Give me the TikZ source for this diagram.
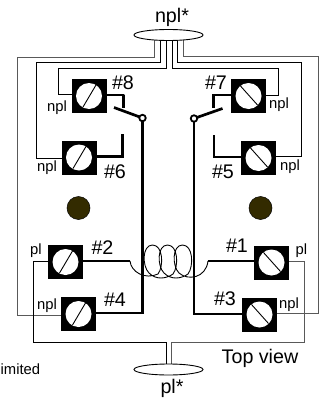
\documentclass[tikz,border=0pt]{standalone}
\usepackage{fontspec}
\setmainfont{Liberation Sans}
\usetikzlibrary{shapes.geometric}
\pgfdeclarelayer{wires}
\pgfsetlayers{wires,main}
\tikzset{
  thinwire/.style={line width=1pt,black},
  greywire/.style={line width=1pt,black!65},
  thickwire/.style={line width=2.7pt,black},
  termbox/.style={fill=black,draw=none,minimum width=35pt,minimum height=34pt,inner sep=0pt,outer sep=0pt},
  screw/.style={fill=white,draw=none,circle,minimum size=26pt,inner sep=0pt},
  slash/.style={line width=0.9pt,black},
  plug/.style={ellipse,draw=black,line width=0.9pt,fill=white,minimum width=69pt,minimum height=11pt,inner sep=0pt},
  hole/.style={circle,fill=holecol,draw=black,line width=0.5pt,minimum size=23pt,inner sep=0pt},
  pivot/.style={circle,fill=white,draw=black,line width=1.8pt,minimum size=6.5pt,inner sep=0pt},
  big/.style={anchor=base,inner sep=0pt,font=\fontsize{19.7}{20}\selectfont},
  small/.style={anchor=base,inner sep=0pt,font=\fontsize{14.8}{15}\selectfont},
  coilline/.style={line width=0.9pt,black}
}
\definecolor{holecol}{HTML}{332B00}
\newcommand{\termL}[3]{\node[termbox] (#1) at (#2,#3) {};
  \node[screw] (#1s) at (#2,#3) {};
  \draw[slash] ([shift={(7pt,11pt)}]#1s.center) -- ([shift={(-6pt,-11pt)}]#1s.center);}
\newcommand{\termR}[3]{\node[termbox] (#1) at (#2,#3) {};
  \node[screw] (#1s) at (#2,#3) {};
  \draw[slash] ([shift={(-8pt,10pt)}]#1s.center) -- ([shift={(9pt,-9pt)}]#1s.center);}
\begin{document}
\begin{tikzpicture}[x=1pt,y=-1pt]
\useasboundingbox (0,0) rectangle (320,399);
% terminals
\termL{t8}{89}{96}
\termL{t6}{79}{157.5}
\termR{t7}{248.5}{96}
\termR{t5}{258.5}{158}
\termL{t2}{65.5}{262}
\termL{t4}{78.5}{314}
\termR{t1}{271.5}{262.5}
\termR{t3}{259.5}{314.5}
% plugs
\node[plug] (top) at (168.5,35) {};
\node[plug] (bot) at (168.5,369.5) {};
% mounting holes
\node[hole] (hl) at (78.5,208) {};
\node[hole] (hr) at (260.5,208) {};
% pivots
\node[pivot] (pl) at (142.5,118) {};
\node[pivot] (pr) at (194,118.5) {};
% free ends
\coordinate (s8) at (114,107.5);
\coordinate (s7) at (222.5,108.5);
\coordinate (c8) at (123.5,108);
\coordinate (c6) at (122.5,134);
\coordinate (c7) at (213.5,108);
\coordinate (c5) at (214,135);
\coordinate (c2) at (130,261);
\coordinate (c1) at (208,261);
\begin{pgfonlayer}{wires}
  \draw[greywire] ([xshift=-14.5pt]top.center) |- (17.5,57) |- ([yshift=-1pt]t4.west);
  \draw[thinwire] ([xshift=-8pt]top.center) |- (36,62) |- ([yshift=-1pt]t6.west);
  \draw[thinwire] ([xshift=-2.5pt]top.center) |- (58.5,68) |- ([yshift=2pt]t8.west);
  \draw[thinwire] ([xshift=3.5pt]top.center) |- (278.7,68) |- ([yshift=1pt]t7.east);
  \draw[thinwire] ([xshift=8.5pt]top.center) |- (301,62) |- ([yshift=2pt]t5.east);
  \draw[greywire] ([xshift=14.5pt]top.center) |- (318,56.5) |- ([yshift=1pt]t3.east);
  \draw[thinwire] ([yshift=1pt]t2.west) -| (33,342) -| ([xshift=-2.5pt]bot.center);
  \draw[greywire] ([yshift=1.5pt]t1.east) -| (304,342) -| ([xshift=2.5pt]bot.center);
  \draw[thickwire,line join=round] ([yshift=1pt]t8.east) -| (c8);
  \draw[thickwire] ([yshift=1pt]t6.east) -| (c6);
  \draw[thickwire] ([yshift=1pt]t7.west) -| (c7);
  \draw[thickwire] ([yshift=1pt]t5.west) -| (c5);
  \draw[thickwire] ([yshift=1pt]t2.east) -- (c2);
  \draw[thickwire] ([yshift=1.5pt]t1.west) -- (c1);
  \draw[thickwire] (s8) -- (pl.center);
  \draw[thickwire] (s7) -- (pr.center);
  \draw[thickwire] (pl.center) |- ([yshift=1pt]t4.east);
  \draw[thickwire] (pr.center) |- ([yshift=0.5pt]t3.west);
\end{pgfonlayer}
% coil
\draw[coilline] (c2) .. controls (131,272) and (145,280) .. (158,274)
  .. controls (164,266) and (163,245) .. (152.5,245)
  .. controls (142,245) and (142,266) .. (149,273)
  .. controls (156,280) and (166,279) .. (173,274)
  .. controls (179,266) and (178,245) .. (167.5,245)
  .. controls (157,245) and (157,266) .. (164,273)
  .. controls (171,280) and (181,279) .. (188,274)
  .. controls (194,266) and (193,245) .. (182.5,245)
  .. controls (172,245) and (172,266) .. (179,273)
  .. controls (188,281) and (206,278) .. (c1);
% labels
\node[big] (lt) at (172,22) {npl*};
\node[big] (lb) at (172,393) {pl*};
\node[big] (l8) at (123,89) {\#8};
\node[big] (l6) at (115,178) {\#6};
\node[big] (l7) at (216,89) {\#7};
\node[big] (l5) at (223,178) {\#5};
\node[big] (l2) at (102.5,254) {\#2};
\node[big] (l4) at (115,306) {\#4};
\node[big] (l1) at (237,252) {\#1};
\node[big] (l3) at (225,305) {\#3};
\node[big] (lv) at (260,363) {Top view};
\node[small] (n8) at (57,111) {npl};
\node[small] (n6) at (47,171) {npl};
\node[small] (n7) at (279,108.7) {npl};
\node[small] (n5) at (290,170.7) {npl};
\node[small] (n4) at (47,309) {npl};
\node[small] (n3) at (289,308.7) {npl};
\node[small] (p2) at (36,254) {pl};
\node[small] (p1) at (301.5,254) {pl};
\node[small,anchor=base west] (lim) at (0.5,374) {imited};
\end{tikzpicture}
\end{document}
